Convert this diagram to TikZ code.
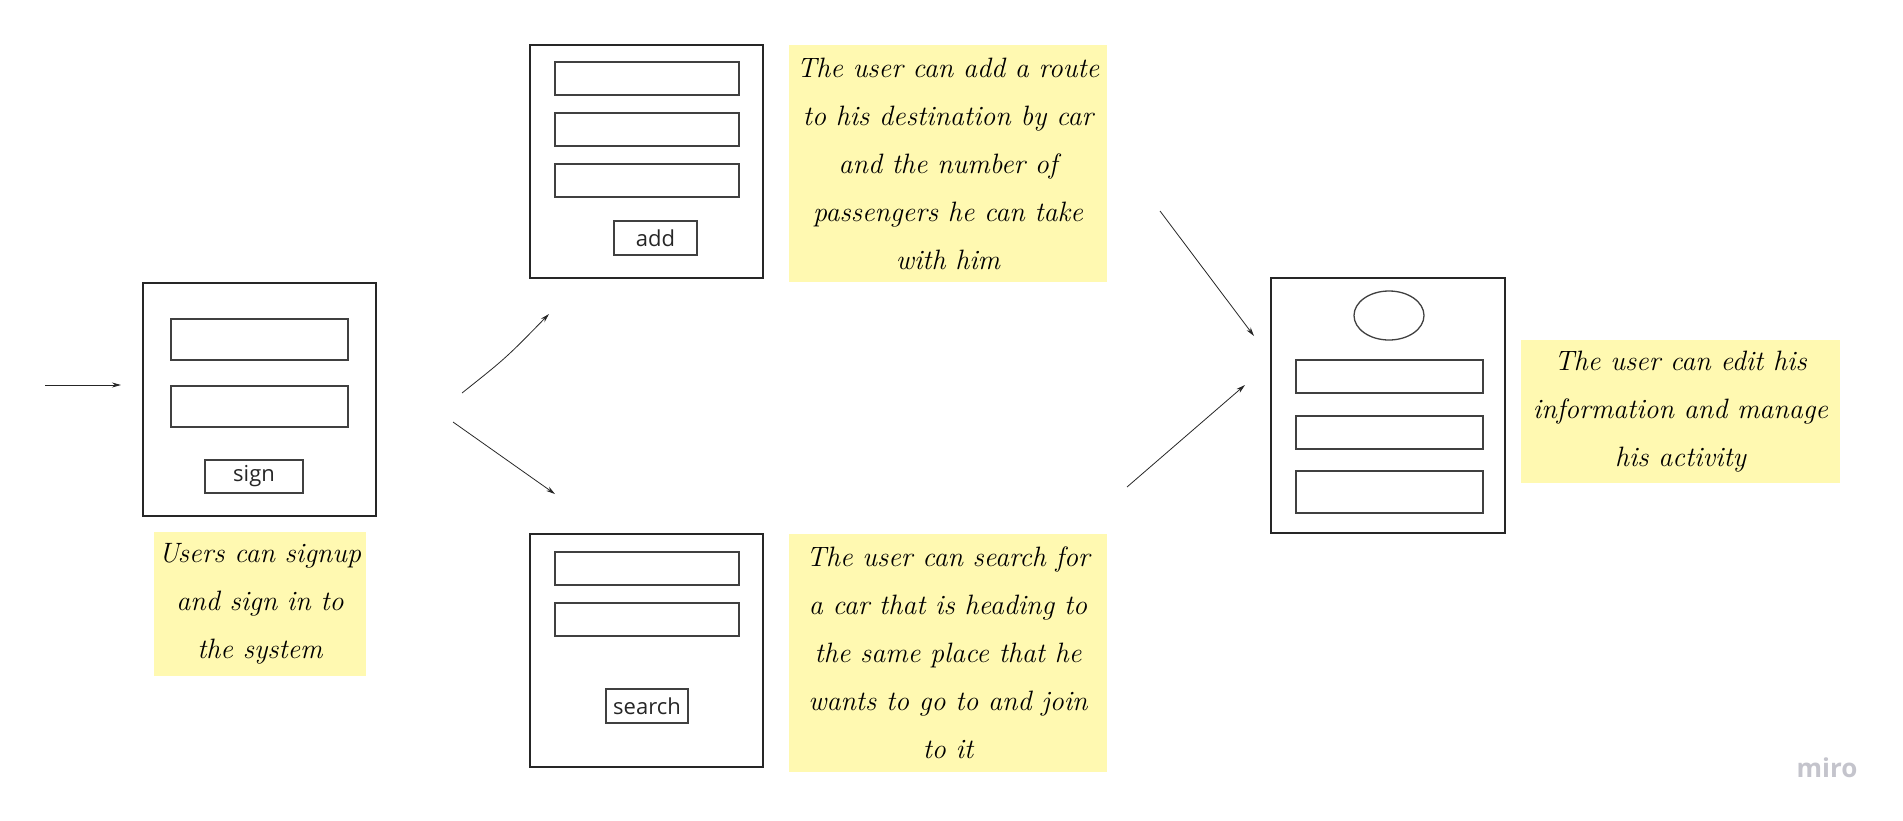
\documentclass[tikz,border=0pt]{standalone}
\usepackage{fontspec}
\newfontfamily\uifont{Open Sans}
\usetikzlibrary{arrows.meta,shapes.geometric}
\definecolor{stickyyellow}{HTML}{FFF9B1}
\definecolor{mirogrey}{HTML}{C4C4CC}
\begin{document}
\begin{tikzpicture}[x=1pt,y=-1pt,
  frame/.style={draw=black!85, line width=1.3pt, inner sep=0pt},
  field/.style={draw=black!75, line width=1.3pt, inner sep=0pt},
  btn/.style={draw=black!75, line width=1.3pt, inner sep=0pt, text=black!85,
    font=\uifont\fontsize{22}{26}\selectfont},
  sticky/.style={fill=stickyyellow, inner sep=0pt, align=center,
    font=\itshape\fontsize{28}{48}\selectfont},
  arr/.style={-{Stealth[length=9pt,width=5pt]}, line width=0.8pt, draw=black!85}
]
\useasboundingbox (0,0) rectangle (1903,820);

% sign-in screen
\node[frame, minimum width=233, minimum height=233] (signbox) at (259.5,399.5) {};
\node[field, minimum width=177, minimum height=41] (signf1) at (259.5,339.5) {};
\node[field, minimum width=177, minimum height=41] (signf2) at (259.5,406.5) {};
\node[btn, minimum width=98, minimum height=33] (signbtn) at (254,476.5) {sign};
\node[sticky, minimum width=212, minimum height=144] (note1) at (260,604)
  {Users can signup\\and sign in to\\the system};

% add screen
\node[frame, minimum width=233, minimum height=233] (addbox) at (646.5,161.5) {};
\node[field, minimum width=184, minimum height=33] (addf1) at (647,78.5) {};
\node[field, minimum width=184, minimum height=33] (addf2) at (647,129.5) {};
\node[field, minimum width=184, minimum height=33] (addf3) at (647,180.5) {};
\node[btn, minimum width=83, minimum height=34] (addbtn) at (655.5,238) {add};
\node[sticky, minimum width=318, minimum height=237] (note2) at (948,163.5)
  {The user can add a route\\to his destination by car\\and the number of\\passengers he can take\\with him};

% search screen
\node[frame, minimum width=233, minimum height=233] (searchbox) at (646.5,650.5) {};
\node[field, minimum width=184, minimum height=33] (searchf1) at (647,568.5) {};
\node[field, minimum width=184, minimum height=33] (searchf2) at (647,619.5) {};
\node[btn, minimum width=82, minimum height=34] (searchbtn) at (647,706) {search};
\node[sticky, minimum width=318, minimum height=238] (note3) at (948,653)
  {The user can search for\\a car that is heading to\\the same place that he\\wants to go to and join\\to it};

% profile screen
\node[frame, minimum width=234, minimum height=255] (profbox) at (1388,405.5) {};
\node[field, ellipse, minimum width=70, minimum height=49] (avatar) at (1389,315.5) {};
\node[field, minimum width=187, minimum height=33] (proff1) at (1389.5,376.5) {};
\node[field, minimum width=187, minimum height=33] (proff2) at (1389.5,432.5) {};
\node[field, minimum width=187, minimum height=42] (proff3) at (1389.5,492) {};
\node[sticky, minimum width=319, minimum height=143] (note4) at (1680.5,411.5)
  {The user can edit his\\information and manage\\his activity};

% watermark
\node[text=mirogrey, font=\uifont\bfseries\fontsize{26}{30}\selectfont, inner sep=0pt] (miro) at (1827,768) {miro};

% connector end points
\coordinate (inA) at (45,385);
\coordinate (inB) at (121,385);
\coordinate (upA) at (462,393);
\coordinate (upM) at (506,358);
\coordinate (upB) at (549,314);
\coordinate (dnA) at (453,422);
\coordinate (dnB) at (555,494);
\coordinate (rtA) at (1160,211);
\coordinate (rtB) at (1254,336);
\coordinate (rbA) at (1127,487);
\coordinate (rbB) at (1245,385);

\draw[arr] (inA) -- (inB);
\draw[arr] (upA) .. controls (upM) .. (upB);
\draw[arr] (dnA) -- (dnB);
\draw[arr] (rtA) -- (rtB);
\draw[arr] (rbA) -- (rbB);
\end{tikzpicture}
\end{document}
